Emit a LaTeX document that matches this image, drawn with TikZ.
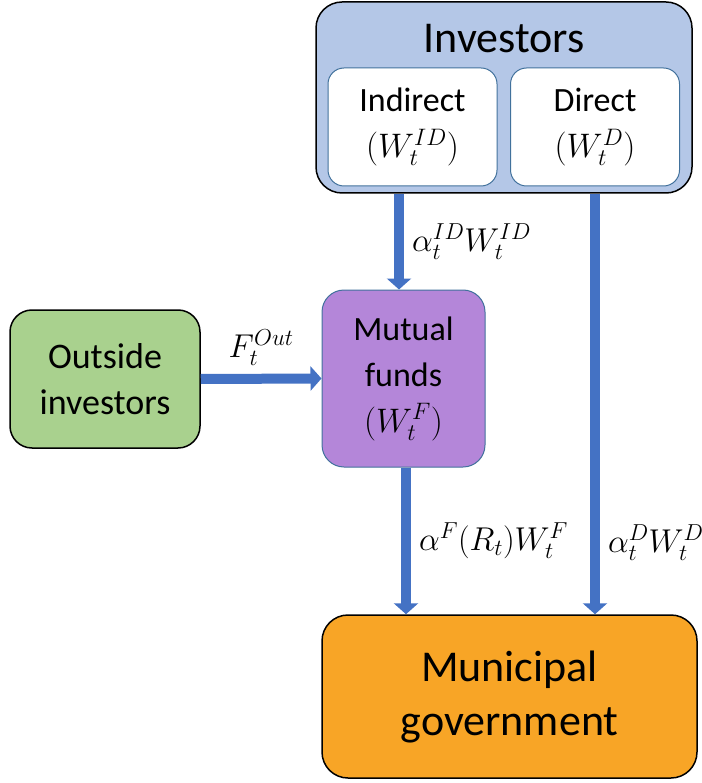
\RequirePackage{fix-cm}
\documentclass[tikz,border=0pt]{standalone}
\usepackage{fontspec}
\setmainfont{Carlito}
\usetikzlibrary{arrows.meta}
\definecolor{investorfill}{HTML}{B4C7E7}
\definecolor{innerline}{HTML}{41719C}
\definecolor{outsidefill}{HTML}{A9D18E}
\definecolor{fundfill}{HTML}{B486D9}
\definecolor{govfill}{HTML}{F8A526}
\definecolor{flowblue}{HTML}{4472C4}
\newcommand{\bigtext}{\fontsize{44}{54}\selectfont}
\newcommand{\midtext}{\fontsize{34}{46}\selectfont}

\begin{document}
\begin{tikzpicture}
    [
      x=1pt, y=-1pt,
      box/.style=
      {
        draw=black,
        line width=1.5pt,
        rounded corners=22pt,
        align=center,
        inner sep=0pt,
        font=\midtext
      },
      subbox/.style=
      {
        box,
        draw=innerline,
        fill=white,
        line width=1pt,
        rounded corners=16pt,
        minimum width=169pt,
        minimum height=118pt
      },
      flow/.style=
      {
        draw=flowblue,
        line width=10pt,
        -{Triangle[width=24pt,length=11pt]}
      },
      lbl/.style=
      {
        font=\fontsize{33}{38}\selectfont,
        inner sep=3pt
      }
    ]
    \useasboundingbox (0,0) rectangle (701,783);

    % investors and their two parts
    \node[box, fill=investorfill, rounded corners=26pt,
          minimum width=376pt, minimum height=191pt] (investors) at (504,97.5) {};
    \node[anchor=base, font=\bigtext] (invtitle) at (504,53) {Investors};
    \node[subbox] (indirect) at (412.5,127) {Indirect\\$(W_t^{ID})$};
    \node[subbox] (direct) at (595,127) {Direct\\$(W_t^{D})$};

    \node[box, fill=outsidefill, minimum width=190pt, minimum height=138pt,
          font=\fontsize{36}{46}\selectfont] (outside) at (105,379) {Outside\\investors};
    \node[box, draw=innerline, line width=1pt, fill=fundfill,
          minimum width=163pt, minimum height=177pt] (funds) at (403.5,378.5)
          {Mutual\\funds\\$(W_t^{F})$};
    \node[box, fill=govfill, rounded corners=26pt, minimum width=375pt,
          minimum height=163pt, font=\bigtext] (gov) at (509.5,696.5)
          {Municipal\\government};

    % flows
    \draw[flow] ([xshift=-4.5pt]funds.north |- investors.south)
      -- node[lbl, right, xshift=5pt] (idlabel) {$\alpha_t^{ID}W_t^{ID}$}
      ([xshift=-4.5pt]funds.north);
    \draw[flow] (outside.east) -- node[lbl, above, yshift=5pt] (outlabel) {$F_t^{Out}$} (funds.west);
    \draw[flow] ([xshift=2.5pt]funds.south) -- node[lbl, right, xshift=5pt] (flabel)
      {$\alpha^F(R_t)W_t^F$} ([xshift=2.5pt]funds.south |- gov.north);
    \draw[flow] (direct.south |- investors.south) -- node[lbl, right, pos=0.83, xshift=5pt] (dlabel)
      {$\alpha_t^DW_t^D$} (direct.south |- gov.north);
  \end{tikzpicture}
\end{document}
